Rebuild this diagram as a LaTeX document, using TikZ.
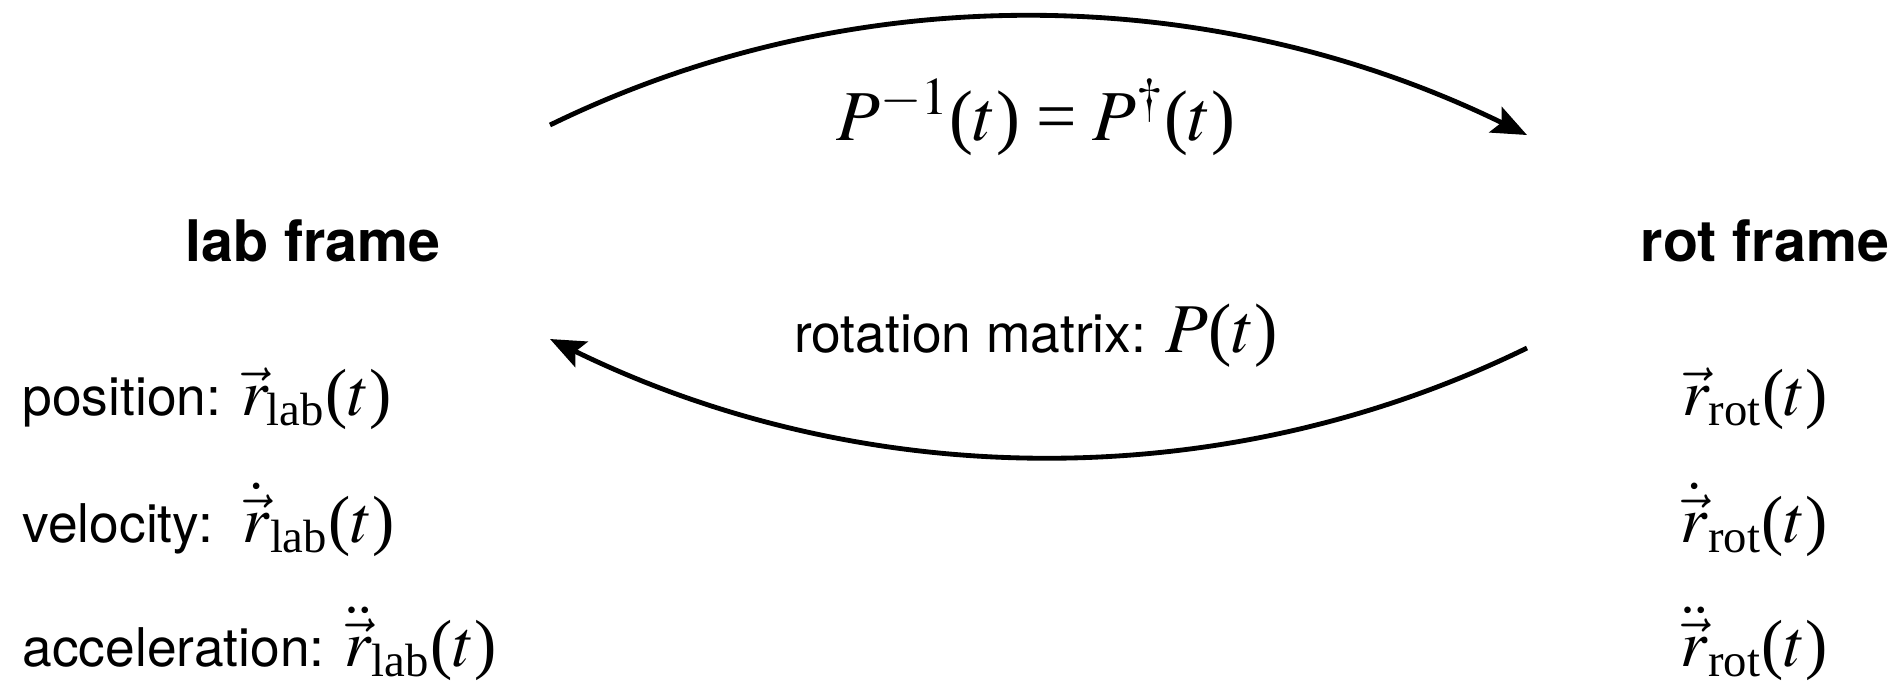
\documentclass[tikz,border=0pt]{standalone}
\usepackage{mathptmx}
\usepackage{fontspec}
\setmainfont{Liberation Serif}
\newfontfamily\hel{TeX Gyre Heros}
\usetikzlibrary{arrows.meta}
\newcommand\Lpar{\mbox{\rmfamily(}}
\newcommand\Rpar{\mbox{\rmfamily)}}
\newcommand\Eqs{\mathrel{\mbox{\rmfamily=}}}
\newcommand\Sub[1]{\mbox{\rmfamily\fontsize{14pt}{16pt}\selectfont #1}}
\begin{document}
\begin{tikzpicture}[x=0.3pt,y=-0.3pt,
  txt/.style={font=\hel\fontsize{16pt}{19pt}\selectfont, inner sep=0pt},
  ttl/.style={font=\hel\bfseries\fontsize{17.2pt}{20pt}\selectfont, inner sep=0pt},
  mth/.style={font=\fontsize{20pt}{24pt}\selectfont, inner sep=0pt},
  bigmth/.style={font=\fontsize{21.5pt}{26pt}\selectfont, inner sep=0pt},
  conn/.style={line width=1.45pt, -{Stealth[length=10.5pt,width=8.5pt,inset=2pt]}}]
\useasboundingbox (0,0) rectangle (1897,684);
% titles
\node[ttl, anchor=base] (lab) at (313,261) {lab frame};
\node[ttl, anchor=base] (rot) at (1765,261) {rot frame};
% left column
\node[txt, anchor=base west] (pos) at (22,415) {position: {\fontsize{20pt}{24pt}\selectfont$\vec r_{\Sub{lab}}\Lpar t\Rpar$}};
\node[txt, anchor=base west] (vel) at (22,542) {velocity:\ \ {\fontsize{20pt}{24pt}\selectfont$\dot{\vec r}_{\Sub{lab}}\Lpar t\Rpar$}};
\node[txt, anchor=base west] (acc) at (22,666) {acceleration: {\fontsize{20pt}{24pt}\selectfont$\ddot{\vec r}_{\Sub{lab}}\Lpar t\Rpar$}};
% right column
\node[mth, anchor=base west] (rpos) at (1682,415) {$\vec r_{\Sub{rot}}\Lpar t\Rpar$};
\node[mth, anchor=base west] (rvel) at (1680,542) {$\dot{\vec r}_{\Sub{rot}}\Lpar t\Rpar$};
\node[mth, anchor=base west] (racc) at (1680,666) {$\ddot{\vec r}_{\Sub{rot}}\Lpar t\Rpar$};
% transformation labels
\node[bigmth, anchor=base] (inv) at (1036,140) {$P^{-1}\Lpar t\Rpar \Eqs P^{\dagger}\Lpar t\Rpar$};
\node[txt, anchor=base] (rm) at (1036,352) {rotation matrix: {\fontsize{21pt}{25pt}\selectfont$P\Lpar t\Rpar$}};
% arrows
\coordinate (a1) at (550,125);
\coordinate (a2) at (1527,135);
\coordinate (b1) at (1527,348);
\coordinate (b2) at (550,339);
\draw[conn] (a1) .. controls (859,-26) and (1218,-16) .. (a2);
\draw[conn] (b1) .. controls (1218,499) and (859,490) .. (b2);
\end{tikzpicture}
\end{document}
